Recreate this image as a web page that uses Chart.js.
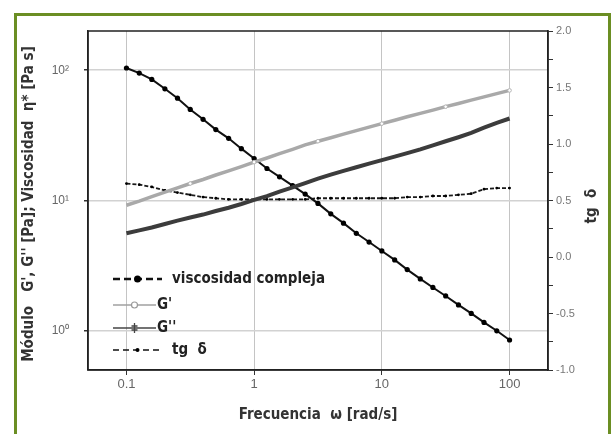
<!DOCTYPE html>
<html>
<head>
<meta charset="utf-8">
<script src="https://cdn.jsdelivr.net/npm/chart.js@4.4.1/dist/chart.umd.min.js"></script>
<style>
  body { margin: 0; background: #fff; overflow: hidden; }
  #wrap { position: relative; width: 611px; height: 434px; }
  #frame { position: absolute; left: 14px; top: 13px; width: 597px; height: 460px;
           box-sizing: border-box; border: 3px solid #6b8e23; border-bottom: none; pointer-events: none; }
</style>
</head>
<body>
<div id="wrap">
  <canvas id="rheo" width="611" height="434"></canvas>
  <div id="frame"></div>
</div>
<script>
// frequency (rad/s)
const freq = [0.1, 0.126, 0.158, 0.2, 0.251, 0.316, 0.398, 0.501, 0.631, 0.794,
              1, 1.26, 1.58, 2, 2.51, 3.16, 3.98, 5.01, 6.31, 7.94,
              10, 12.6, 15.8, 20, 25.1, 31.6, 39.8, 50.1, 63.1, 79.4, 100];
// complex viscosity eta* (Pa s)
const viscosity = [104, 95, 85, 72, 61, 50, 42, 35, 30, 25,
                   21, 17.6, 15.2, 13, 11.2, 9.5, 7.9, 6.7, 5.6, 4.8,
                   4.1, 3.5, 2.95, 2.5, 2.15, 1.85, 1.58, 1.36, 1.16, 1.0, 0.85];
// storage modulus G' (Pa)
const gPrime = [9.2, 9.9, 10.7, 11.6, 12.5, 13.5, 14.5, 15.7, 16.9, 18.2,
                19.7, 21.2, 22.9, 24.7, 26.7, 28.5, 30.3, 32.3, 34.4, 36.6,
                38.9, 41.3, 43.9, 46.6, 49.4, 52.5, 55.6, 58.9, 62.4, 66.1, 70];
// loss modulus G'' (Pa)
const gDouble = [5.6, 5.9, 6.2, 6.6, 7.0, 7.4, 7.8, 8.3, 8.8, 9.4,
                 10.1, 10.8, 11.7, 12.6, 13.6, 14.7, 15.8, 16.9, 18.0, 19.2,
                 20.4, 21.7, 23.1, 24.7, 26.5, 28.5, 30.6, 33.0, 36.2, 39.5, 42.6];
// loss tangent tg delta
const tanDelta = [0.65, 0.64, 0.62, 0.59, 0.57, 0.55, 0.53, 0.52, 0.51, 0.51,
                  0.51, 0.51, 0.51, 0.51, 0.51, 0.52, 0.52, 0.52, 0.52, 0.52,
                  0.52, 0.52, 0.53, 0.53, 0.54, 0.54, 0.55, 0.56, 0.60, 0.61, 0.61];

const seriesLabels = ['viscosidad compleja', "G'", "G''", 'tg  δ'];

const xTickVals = [0.1, 1, 10, 100];
const xTickLabels = ['0.1', '1', '10', '100'];
const yTickVals = [1, 10, 100];
const yTickLabels = ['10⁰', '10¹', '10²'];
const tgTickVals = [-1, -0.5, 0, 0.5, 1, 1.5, 2];
const tgTickLabels = ['-1.0', '-0.5', '0.0', '0.5', '1.0', '1.5', '2.0'];

const xTitle = 'Frecuencia  ω [rad/s]';
const yTitle = "Módulo   G', G'' [Pa]; Viscosidad  η* [Pa s]";
const y2Title = 'tg  δ';

const boldFace = "'Liberation Sans Narrow', 'DejaVu Sans Condensed', sans-serif";
const tickFont = { family: "'Liberation Sans', Arial, sans-serif", size: 11 };

const pts = arr => freq.map((f, i) => ({ x: f, y: arr[i] }));

function logTicks(min, max) {
  const out = [];
  for (let e = -2; e <= 3; e++) {
    for (let m = 1; m <= 9; m++) {
      const v = +(m * Math.pow(10, e)).toPrecision(3);
      if (v >= min - 1e-9 && v <= max + 1e-9) out.push({ value: v, major: m === 1 });
    }
  }
  return out;
}

const decor = {
  id: 'decor',
  afterDraw(chart) {
    const { ctx, chartArea: a } = chart;
    ctx.save();
    ctx.strokeStyle = '#222';
    ctx.lineWidth = 1.5;
    ctx.strokeRect(a.left, a.top, a.right - a.left, a.bottom - a.top);

    ctx.fillStyle = '#333';
    ctx.font = 'bold 15px ' + boldFace;
    ctx.textAlign = 'center';
    ctx.textBaseline = 'middle';
    ctx.fillText(xTitle, 318, 415);
    ctx.save(); ctx.translate(29, 204); ctx.rotate(-Math.PI / 2); ctx.fillText(yTitle, 0, 0); ctx.restore();
    ctx.save(); ctx.translate(592, 206); ctx.rotate(-Math.PI / 2); ctx.fillText(y2Title, 0, 0); ctx.restore();

    // legend inside the plot, lower left
    const order = [2, 0, 1, 3];
    const rows = [279, 305, 328, 350];
    order.forEach((di, r) => {
      const ds = chart.data.datasets[di];
      const y = rows[r];
      const short = di === 0 || di === 1;
      const x0 = a.left + 25, x1 = a.left + (short ? 68 : 74), xm = (x0 + x1) / 2;
      ctx.strokeStyle = di === 0 ? '#a0a0a0' : (di === 1 ? '#444' : '#111');
      ctx.lineWidth = di === 2 ? 2.5 : 1.6;
      ctx.setLineDash(ds.legendDash || []);
      ctx.beginPath(); ctx.moveTo(x0, y); ctx.lineTo(x1, y); ctx.stroke();
      ctx.setLineDash([]);
      if (di === 2) {
        ctx.fillStyle = '#000';
        ctx.beginPath(); ctx.arc(xm, y, 3.5, 0, Math.PI * 2); ctx.fill();
      } else if (di === 0) {
        ctx.fillStyle = '#fff'; ctx.strokeStyle = '#999'; ctx.lineWidth = 1.2;
        ctx.beginPath(); ctx.arc(xm, y, 3, 0, Math.PI * 2); ctx.fill(); ctx.stroke();
      } else if (di === 1) {
        ctx.strokeStyle = '#444'; ctx.lineWidth = 1.3;
        ctx.beginPath();
        ctx.moveTo(xm, y - 5); ctx.lineTo(xm, y + 5);
        ctx.moveTo(xm - 3, y - 2); ctx.lineTo(xm + 3, y - 2);
        ctx.moveTo(xm - 3, y + 2); ctx.lineTo(xm + 3, y + 2);
        ctx.stroke();
      } else {
        ctx.fillStyle = '#000';
        ctx.beginPath(); ctx.arc(xm, y, 2, 0, Math.PI * 2); ctx.fill();
      }
      ctx.fillStyle = '#222';
      ctx.font = 'bold 15px ' + boldFace;
      ctx.textAlign = 'left';
      const tx = short ? x1 + 1 : x1 + 10;
      ctx.fillText(ds.label, tx, y);
    });
    ctx.restore();
  }
};

new Chart(document.getElementById('rheo'), {
  type: 'line',
  data: {
    datasets: [
      {
        label: seriesLabels[1], data: pts(gPrime), yAxisID: 'y',
        borderColor: '#a9a9a9', borderWidth: 3.5,
        pointRadius: c => (c.dataIndex % 5 === 0 && c.dataIndex > 0 ? 1.8 : 0),
        pointBackgroundColor: '#fff', pointBorderColor: '#b5b5b5', pointBorderWidth: 1
      },
      {
        label: seriesLabels[2], data: pts(gDouble), yAxisID: 'y',
        borderColor: '#3c3c3c', borderWidth: 4, pointRadius: 0
      },
      {
        label: seriesLabels[0], data: pts(viscosity), yAxisID: 'y',
        borderColor: '#111', borderWidth: 2, legendDash: [7, 4],
        pointRadius: 2.6, pointBackgroundColor: '#000', pointBorderColor: '#000', pointBorderWidth: 0
      },
      {
        label: seriesLabels[3], data: pts(tanDelta), yAxisID: 'y2',
        borderColor: '#1a1a1a', borderWidth: 1.8, borderDash: [4, 2], legendDash: [6, 4],
        pointRadius: 1.4, pointBackgroundColor: '#000', pointBorderWidth: 0
      }
    ]
  },
  options: {
    responsive: false,
    animation: false,
    layout: { padding: { top: 31, left: 0, right: 0, bottom: 0 } },
    plugins: { legend: { display: false }, tooltip: { enabled: false } },
    scales: {
      x: {
        type: 'logarithmic', min: 0.05, max: 200,
        afterBuildTicks: s => { s.ticks = xTickVals.map(v => ({ value: v, major: true })); },
        afterFit: s => { s.height = 64; },
        ticks: {
          color: '#666', font: { family: tickFont.family, size: 13 }, padding: 2, maxRotation: 0, autoSkip: false,
          callback: v => { const i = xTickVals.indexOf(v); return i < 0 ? '' : xTickLabels[i]; }
        },
        grid: { color: '#c4c4c4', lineWidth: 1, tickColor: '#333', tickLength: 5 },
        border: { color: '#222', width: 1.5 }
      },
      y: {
        type: 'logarithmic', position: 'left', min: 0.5, max: 200,
        afterBuildTicks: s => { s.ticks = logTicks(0.5, 200); },
        afterFit: s => { s.width = 88; },
        ticks: {
          color: '#666', font: { family: tickFont.family, size: 12 }, padding: 15, autoSkip: false,
          callback: v => { const i = yTickVals.findIndex(t => Math.abs(t - v) < 1e-9); return i < 0 ? '' : yTickLabels[i]; }
        },
        grid: {
          color: c => (c.tick && c.tick.major ? '#d2d2d2' : 'rgba(0,0,0,0)'),
          lineWidth: c => (c.tick && c.tick.major ? 1.5 : 0),
          tickColor: '#333', tickLength: 4
        },
        border: { color: '#222', width: 1.5 }
      },
      y2: {
        type: 'linear', position: 'right', min: -1, max: 2,
        afterFit: s => { s.width = 63; },
        ticks: {
          stepSize: 0.25, color: '#777', font: tickFont, padding: 3, autoSkip: false,
          callback: v => { const i = tgTickVals.findIndex(t => Math.abs(t - v) < 1e-9); return i < 0 ? '' : tgTickLabels[i]; }
        },
        grid: { drawOnChartArea: false, tickColor: '#333', tickLength: 5 },
        border: { color: '#222', width: 1.5 }
      }
    }
  },
  plugins: [decor]
});
</script>
</body>
</html>
